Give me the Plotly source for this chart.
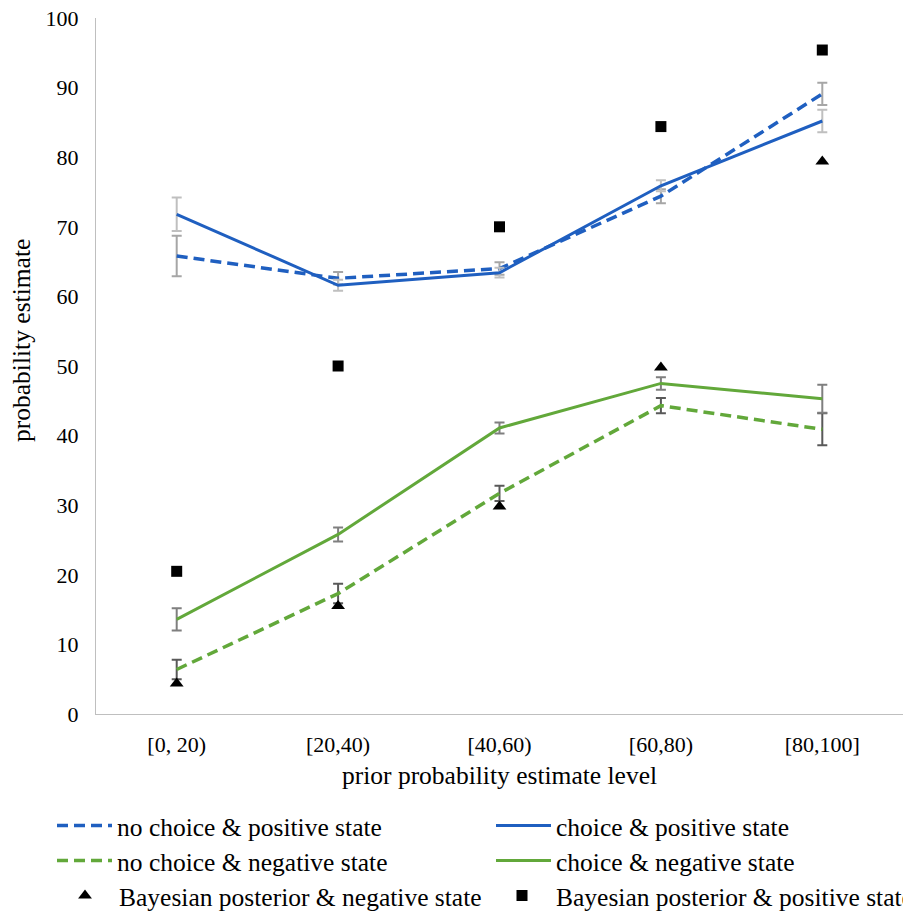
import plotly.graph_objects as go

categories = ["[0, 20)", "[20,40)", "[40,60)", "[60,80)", "[80,100]"]

nochoice_pos = [65.8, 62.6, 64.0, 74.4, 89.1]
nochoice_pos_err = [2.9, 0.9, 0.9, 1.0, 1.6]
choice_pos = [71.8, 61.6, 63.4, 75.9, 85.2]
choice_pos_err = [2.4, 0.8, 0.7, 0.8, 1.6]

nochoice_neg = [6.4, 17.3, 31.7, 44.3, 40.9]
nochoice_neg_err = [1.4, 1.4, 1.1, 1.1, 2.3]
choice_neg = [13.6, 25.8, 41.1, 47.5, 45.3]
choice_neg_err = [1.6, 1.0, 0.8, 0.9, 2.0]

bayes_neg = [4.4, 15.5, 29.8, 49.8, 79.4]
bayes_pos = [20.5, 50.0, 70.0, 84.4, 95.4]

BLUE = "#1f5fc0"
GREEN = "#62a83a"
FONT = "Liberation Serif, Times New Roman, serif"
DASH = "11px,6px"

fig = go.Figure()

fig.add_trace(go.Scatter(
    x=categories, y=nochoice_pos, mode="lines", name="no choice & positive state",
    line=dict(color=BLUE, width=3.5, dash=DASH), legend="legend", showlegend=True,
    error_y=dict(type="data", array=nochoice_pos_err, color="#a6a6a6", thickness=2, width=5)))
fig.add_trace(go.Scatter(
    x=categories, y=choice_pos, mode="lines", name="choice & positive state",
    line=dict(color=BLUE, width=3), legend="legend2",
    error_y=dict(type="data", array=choice_pos_err, color="#bfbfbf", thickness=2, width=5)))
fig.add_trace(go.Scatter(
    x=categories, y=nochoice_neg, mode="lines", name="no choice & negative state",
    line=dict(color=GREEN, width=3.5, dash=DASH), legend="legend3",
    error_y=dict(type="data", array=nochoice_neg_err, color="#595959", thickness=2, width=5)))
fig.add_trace(go.Scatter(
    x=categories, y=choice_neg, mode="lines", name="choice & negative state",
    line=dict(color=GREEN, width=3), legend="legend4",
    error_y=dict(type="data", array=choice_neg_err, color="#7f7f7f", thickness=2, width=5)))
fig.add_trace(go.Scatter(
    x=categories, y=bayes_neg, mode="markers", name="Bayesian posterior & negative state",
    marker=dict(symbol="triangle-up", size=12, color="black"), legend="legend5"))
fig.add_trace(go.Scatter(
    x=categories, y=bayes_pos, mode="markers", name="Bayesian posterior & positive state",
    marker=dict(symbol="square", size=11, color="black"), legend="legend6"))

# page body has an 8px margin; size the figure so it fits the 911x914 window
W, H = 903, 906
OFF = 8


def leg(px, py, iw=30):
    # px, py: desired screen position of legend's left edge / row centre
    return dict(
        xref="container", yref="container",
        x=(px - OFF) / W, y=(H - (py - OFF)) / H, xanchor="left", yanchor="middle",
        orientation="h", font=dict(family=FONT, size=25.5, color="black"),
        bgcolor="rgba(0,0,0,0)", borderwidth=0, itemwidth=iw,
    )


fig.update_layout(
    width=W, height=H, showlegend=True,
    paper_bgcolor="white", plot_bgcolor="white",
    margin=dict(l=88, r=8, t=10, b=200),
    font=dict(family=FONT, size=22, color="black"),
    xaxis=dict(
        type="category", range=[-0.5, 4.5],
        showline=True, linecolor="#bfbfbf", linewidth=1,
        showgrid=False, zeroline=False, ticks="",
        tickfont=dict(size=22), automargin=False, ticklabelstandoff=11,
        ticklabeloverflow="allow",
        title=dict(text="prior probability estimate level", font=dict(size=25.5), standoff=9),
    ),
    yaxis=dict(
        range=[0, 100], dtick=10,
        showline=True, linecolor="#bfbfbf", linewidth=1,
        showgrid=False, zeroline=False, ticks="",
        tickfont=dict(size=22), automargin=False, ticklabelstandoff=12,
        ticklabeloverflow="allow",
    ),
    legend=leg(52, 826, 55),
    legend2=leg(491, 826, 55),
    legend3=leg(52, 861, 55),
    legend4=leg(491, 861, 55),
    legend5=leg(51, 896, 58),
    legend6=leg(488, 896, 58),
)

# y-axis title placed as in the reference (slightly above the axis centre)
fig.add_annotation(
    text="probability estimate", xref="paper", yref="paper", x=0, y=0.536,
    xanchor="center", yanchor="middle", xshift=-74, textangle=-90, showarrow=False,
    font=dict(family=FONT, size=25.5, color="black"),
)

fig.write_html("out.html")
